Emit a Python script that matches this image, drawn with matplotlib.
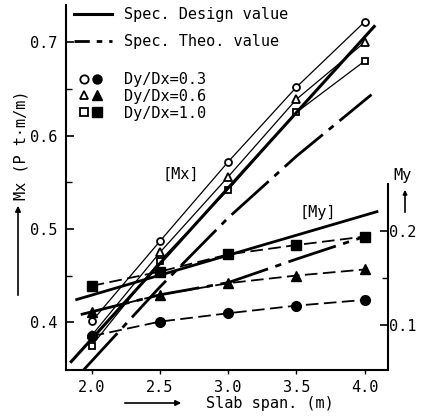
import matplotlib
matplotlib.use('Agg')
import matplotlib.pyplot as plt
from matplotlib.lines import Line2D
from matplotlib.legend_handler import HandlerTuple
from matplotlib.patches import FancyArrowPatch

plt.rcParams['font.family'] = ['DejaVu Sans Mono', 'DejaVu Sans']
plt.rcParams['font.size'] = 11

# ---- data ----
span = [2.0, 2.5, 3.0, 3.5, 4.0]
ratio_labels = ['Dy/Dx=0.3', 'Dy/Dx=0.6', 'Dy/Dx=1.0']

# Mx (left axis, open markers)
mx_03 = [0.401, 0.487, 0.572, 0.652, 0.722]
mx_06 = [0.386, 0.475, 0.556, 0.639, 0.700]
mx_10 = [0.375, 0.466, 0.542, 0.625, 0.680]

# My (right axis, filled markers)
my_03 = [0.088, 0.1035, 0.1124, 0.1205, 0.1266]
my_06 = [0.114, 0.132, 0.1444, 0.1525, 0.159]
my_10 = [0.1415, 0.1567, 0.175, 0.185, 0.194]

# Specification curves
design_mx_x = [1.85, 4.07]
design_mx = [0.358, 0.717]
theo_mx_x = [1.94, 2.5, 3.0, 3.5, 4.05]
theo_mx = [0.349, 0.438, 0.512, 0.578, 0.644]
design_my_x = [1.89, 4.09]
design_my = [0.127, 0.2205]
theo_my_x = [1.92, 2.5, 3.0, 3.5, 4.0]
theo_my = [0.111, 0.132, 0.145, 0.170, 0.194]

x_ticks = [2.0, 2.5, 3.0, 3.5, 4.0]
mx_ticks = [0.4, 0.5, 0.6, 0.7]
mx_minor = [0.45, 0.55, 0.65]
my_ticks = [0.1, 0.2]
my_minor = [0.15]

W, H = 428, 419
fig = plt.figure(figsize=(W / 100, H / 100), dpi=100)
ax = fig.add_axes([65.5 / W, 49 / H, 322.5 / W, 365 / H])
ax.set_xlim(1.808, 4.171)
ax.set_ylim(0.349, 0.740)
ay = ax.twinx()
ay.set_ylim(0.052, 0.4404)

K = 'black'
dashdot = (0, (18, 2.75, 2.25, 2.75))
dashdot_leg = (0, (5.5, 2.5, 2, 2.5))
dashed = (0, (7, 3))

# Mx series
ax.plot(span, mx_03, '-', color=K, lw=0.9, marker='o', ms=5, mfc='white', mec=K, mew=1.3)
ax.plot(span, mx_06, '-', color=K, lw=0.9, marker='^', ms=6, mfc='white', mec=K, mew=1.3)
ax.plot(span, mx_10, '-', color=K, lw=0.9, marker='s', ms=5, mfc='white', mec=K, mew=1.3)
ax.plot(design_mx_x, design_mx, '-', color=K, lw=2.2)
ax.plot(theo_mx_x, theo_mx, linestyle=dashdot, color=K, lw=2.0)

# My series
ay.plot(design_my_x, design_my, '-', color=K, lw=2.0)
ay.plot(theo_my_x, theo_my, linestyle=dashdot, color=K, lw=2.0)
ay.plot(span, my_03, linestyle=dashed, color=K, lw=1.3, marker='o', ms=7, mfc=K, mec=K)
ay.plot(span, my_06, linestyle=dashed, color=K, lw=1.3, marker='^', ms=7.5, mfc=K, mec=K)
ay.plot(span, my_10, linestyle=dashed, color=K, lw=1.3, marker='s', ms=6.5, mfc=K, mec=K)

# spines
for s in ['top', 'right']:
    ax.spines[s].set_visible(False)
for s in ['top', 'left', 'bottom']:
    ay.spines[s].set_visible(False)
ay.spines['right'].set_bounds(0.052, 0.25)
for sp in [ax.spines['left'], ax.spines['bottom'], ay.spines['right']]:
    sp.set_linewidth(1.5)

# ticks
ax.set_xticks(x_ticks)
ax.set_xticklabels([f'{v:.1f}' for v in x_ticks])
ax.set_yticks(mx_ticks)
ax.set_yticklabels([f'{v:.1f}' for v in mx_ticks])
ax.set_yticks(mx_minor, minor=True)
ay.set_yticks(my_ticks)
ay.set_yticklabels([f'{v:.1f}' for v in my_ticks])
ay.set_yticks(my_minor, minor=True)
ax.tick_params(axis='y', which='major', direction='in', length=6, width=1.2, pad=6, labelsize=11)
ax.tick_params(axis='y', which='minor', direction='in', length=4, width=1.0)
ax.tick_params(axis='x', which='major', direction='out', length=3, width=1.0, pad=4, labelsize=11)
ay.tick_params(axis='y', which='major', direction='in', length=6, width=1.2, pad=1, labelsize=11)
ay.tick_params(axis='y', which='minor', direction='in', length=4, width=1.0)

# in-plot labels
ax.text(2.654, 0.559, '[Mx]', ha='center', va='center', fontsize=11)
ax.text(3.658, 0.5176, '[My]', ha='center', va='center', fontsize=11)

# axis labels
fig.text(21 / W, 1 - 145 / H, 'Mx (P t\u00b7m/m)', rotation=90, ha='center', va='center', fontsize=11)
fig.text(270 / W, 1 - 403 / H, 'Slab span. (m)', ha='center', va='center', fontsize=11)
fig.text(403 / W, 1 - 175 / H, 'My', ha='center', va='center', fontsize=11)

def farrow(p0, p1, ms=8):
    a = FancyArrowPatch((p0[0] / W, 1 - p0[1] / H), (p1[0] / W, 1 - p1[1] / H),
                        transform=fig.transFigure, arrowstyle='-|>', mutation_scale=ms,
                        lw=1.2, color=K)
    fig.add_artist(a)

farrow((18, 298), (18, 203))
farrow((122, 403), (184, 403))
farrow((405, 215), (405, 187), ms=6)

# legends
h_design = Line2D([], [], color=K, lw=2.2)
h_theo = Line2D([], [], color=K, lw=2.0, linestyle=dashdot_leg)
leg1 = ax.legend([h_design, h_theo], ['Spec. Design value', 'Spec. Theo. value'],
                 loc='upper left', bbox_to_anchor=((74 - 65.5) / 322.5, (370 - 7) / 365),
                 frameon=False, borderpad=0, borderaxespad=0, handlelength=2.5,
                 handletextpad=0.75, labelspacing=0.8, fontsize=11)
ax.add_artist(leg1)

mk = ['o', '^', 's']
handles = []
for m in mk:
    o = Line2D([], [], linestyle='none', marker=m, ms=6, mfc='white', mec=K, mew=1.3)
    f = Line2D([], [], linestyle='none', marker=m, ms=6.5, mfc=K, mec=K)
    handles.append((o, f))
leg2 = ax.legend(handles, ratio_labels, loc='upper left',
                 bbox_to_anchor=((77 - 65.5) / 322.5, (370 - 72) / 365),
                 frameon=False, borderpad=0, borderaxespad=0, handlelength=1.75,
                 handletextpad=1.3, labelspacing=0.12, fontsize=11,
                 handler_map={tuple: HandlerTuple(ndivide=None, pad=0)})

fig.savefig('out.png', dpi=100)
